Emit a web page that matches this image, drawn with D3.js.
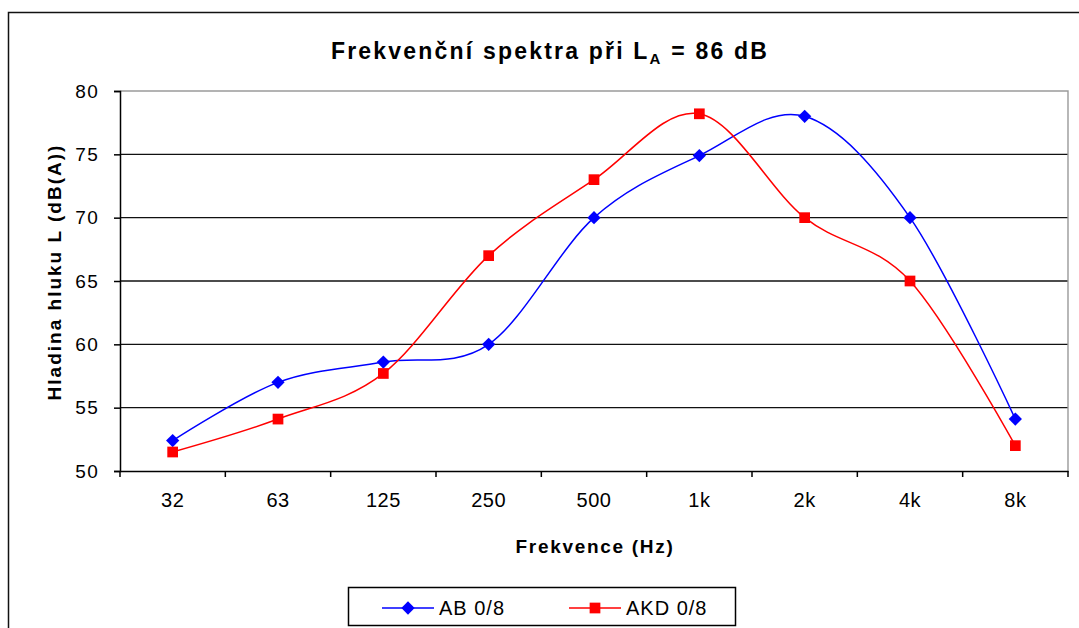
<!DOCTYPE html>
<html>
<head>
<meta charset="utf-8">
<script src="https://cdn.jsdelivr.net/npm/d3@7"></script>
<style>
  body { margin: 0; background: #fff; }
  text { font-family: "Liberation Sans", Arial, sans-serif; fill: #000; }
</style>
</head>
<body>
<div id="chart"></div>
<script>
// data
const bands = ["32", "63", "125", "250", "500", "1k", "2k", "4k", "8k"];
const abValues = [52.4, 57, 58.6, 60, 70, 74.9, 78, 70, 54.1];
const akdValues = [51.5, 54.1, 57.7, 67, 73, 78.2, 70, 65, 52];
const yTicks = [50, 55, 60, 65, 70, 75, 80];
const seriesNames = ["AB 0/8", "AKD 0/8"];

const W = 1079, H = 628;
const plot = { left: 120, right: 1068, top: 91, bottom: 471 };

const svg = d3.select("#chart").append("svg")
  .attr("width", W).attr("height", H);

// outer chart frame (cut off at right and bottom like the original)
svg.append("rect")
  .attr("x", 8.5).attr("y", 12.5)
  .attr("width", W + 20).attr("height", H + 20)
  .attr("fill", "none").attr("stroke", "#111").attr("stroke-width", 1.5);

const x = d3.scaleBand().domain(bands).range([plot.left, plot.right]);
const y = d3.scaleLinear().domain([50, 80]).range([plot.bottom, plot.top]);

// gridlines
svg.append("g")
  .selectAll("line")
  .data(yTicks.filter(d => d > 50 && d < 80))
  .join("line")
  .attr("x1", plot.left).attr("x2", plot.right)
  .attr("y1", d => y(d)).attr("y2", d => y(d))
  .attr("stroke", "#111").attr("stroke-width", 1.4);

// plot area border (top and right in grey)
svg.append("path")
  .attr("d", `M${plot.left},${y(80)}H${plot.right}V${plot.bottom}`)
  .attr("fill", "none").attr("stroke", "#9a9a9a").attr("stroke-width", 1.4);

// y axis
const yAxis = svg.append("g")
  .attr("transform", `translate(${plot.left},0)`)
  .call(d3.axisLeft(y).tickValues(yTicks).tickSize(6).tickPadding(15));
yAxis.selectAll("line, path").attr("stroke", "#000").attr("stroke-width", 1.5);
yAxis.selectAll("text")
  .attr("font-family", null)
  .style("font-size", "19px")
  .style("letter-spacing", "1.3px");

// x axis with ticks between categories
const xAxis = svg.append("g")
  .attr("transform", `translate(0,${plot.bottom})`)
  .call(d3.axisBottom(x).tickSize(0).tickPadding(22));
xAxis.select(".domain").attr("stroke", "#000").attr("stroke-width", 1.5);
xAxis.selectAll("text")
  .attr("font-family", null)
  .style("font-size", "20px")
  .style("letter-spacing", "0.5px");
const bounds = bands.map(b => x(b)).concat([plot.right]);
xAxis.append("g")
  .selectAll("line")
  .data(bounds)
  .join("line")
  .attr("x1", d => d).attr("x2", d => d)
  .attr("y1", 0).attr("y2", 6)
  .attr("stroke", "#000").attr("stroke-width", 1.5);

// title
const title = svg.append("text")
  .attr("x", 550).attr("y", 59)
  .attr("text-anchor", "middle")
  .style("font-size", "23px").style("font-weight", "bold")
  .style("letter-spacing", "2.2px");
title.append("tspan").text("Frekvenční spektra při L");
title.append("tspan").text("A").attr("dy", 5).style("font-size", "15px");
title.append("tspan").text(" = 86 dB").attr("dy", -5);

// axis titles
svg.append("text")
  .attr("x", (plot.left + plot.right) / 2 + 1).attr("y", 553)
  .attr("text-anchor", "middle")
  .style("font-size", "19px").style("font-weight", "bold")
  .style("letter-spacing", "1.7px")
  .text("Frekvence (Hz)");

svg.append("text")
  .attr("transform", `translate(61,${(plot.top + plot.bottom) / 2 - 9}) rotate(-90)`)
  .attr("text-anchor", "middle")
  .style("font-size", "19px").style("font-weight", "bold")
  .style("letter-spacing", "2px")
  .text("Hladina hluku L (dB(A))");

// series
const series = [
  { name: seriesNames[0], values: abValues, color: "#0000ff", symbol: d3.symbolSquare, size: 88, rotate: 45 },
  { name: seriesNames[1], values: akdValues, color: "#ff0000", symbol: d3.symbolSquare, size: 115, rotate: 0 }
];

const line = d3.line()
  .x((d, i) => x(bands[i]) + x.bandwidth() / 2)
  .y(d => y(d))
  .curve(d3.curveCardinal.tension(0));

series.forEach(s => {
  svg.append("path")
    .datum(s.values)
    .attr("d", line)
    .attr("fill", "none")
    .attr("stroke", s.color)
    .attr("stroke-width", 1.5);

  svg.append("g")
    .selectAll("path")
    .data(s.values)
    .join("path")
    .attr("transform", (d, i) =>
      `translate(${x(bands[i]) + x.bandwidth() / 2},${y(d)}) rotate(${s.rotate})`)
    .attr("d", d3.symbol(s.symbol, s.size))
    .attr("fill", s.color);
});

// legend
const legend = svg.append("g");
legend.append("rect")
  .attr("x", 348.5).attr("y", 587.5)
  .attr("width", 387).attr("height", 38)
  .attr("fill", "#fff").attr("stroke", "#000").attr("stroke-width", 1.5);

const legendX = [382, 569];
series.forEach((s, i) => {
  const g = legend.append("g").attr("transform", `translate(${legendX[i]},608)`);
  g.append("line")
    .attr("x1", 0).attr("x2", 52)
    .attr("stroke", s.color).attr("stroke-width", 1.5);
  g.append("path")
    .attr("transform", `translate(26,0) rotate(${s.rotate})`)
    .attr("d", d3.symbol(s.symbol, s.size))
    .attr("fill", s.color);
  g.append("text")
    .attr("x", 57).attr("y", 7)
    .style("font-size", "20px")
    .style("letter-spacing", "1px")
    .text(s.name);
});
</script>
</body>
</html>
